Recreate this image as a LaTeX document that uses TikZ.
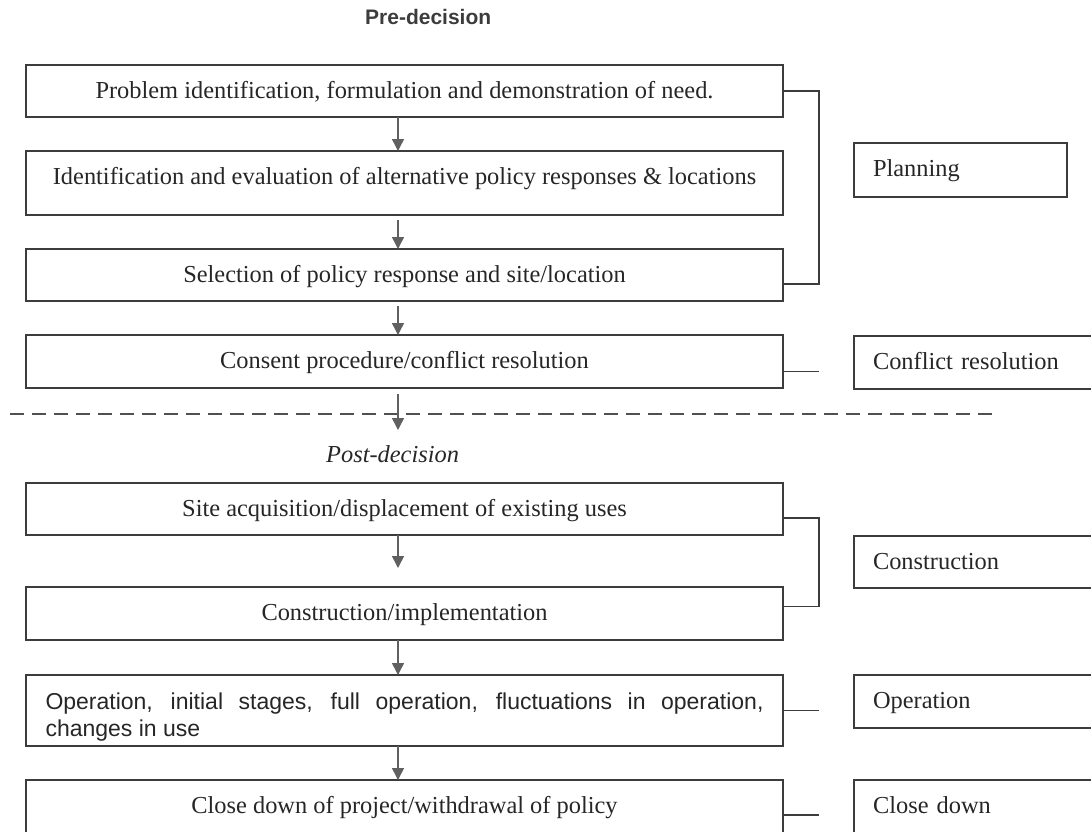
\documentclass[tikz,border=0pt]{standalone}
\usepackage{fontspec}
\setmainfont{Liberation Serif}
\newfontfamily\arialfont{Liberation Sans}
\usepackage{tikz}
\usetikzlibrary{calc,arrows.meta,positioning}
\definecolor{boxgrey}{HTML}{3C3C3C}
\definecolor{arrowgrey}{HTML}{606060}
\definecolor{inkgrey}{HTML}{262626}

\begin{document}
\begin{tikzpicture}[x=1pt,y=-1pt]

\tikzset{stagebox/.style={draw=boxgrey,line width=1.8pt,anchor=north west,outer sep=0pt,minimum width=757pt,inner xsep=0pt,inner ysep=0pt,text height=33pt,text=inkgrey,font=\fontsize{24.4}{28}\selectfont},
phasebox/.style={draw=boxgrey,line width=1.8pt,anchor=north west,outer sep=0pt,inner xsep=19pt,inner ysep=0pt,text height=33pt,align=left,text=inkgrey,font=\fontsize{24.4}{28}\selectfont},
flow/.style={-{Triangle[width=12pt,length=12pt]},line width=1.5pt,draw=arrowgrey,fill=arrowgrey},
link/.style={line width=1.4pt,draw=boxgrey},
divider/.style={line width=2.2pt,draw=boxgrey!90,dash pattern=on 14pt off 8pt}}

\useasboundingbox (0,0) rectangle (1091,831);
\clip (0,0) rectangle (1091,831);

% Headings
\node[anchor=base west,inner sep=0pt,text=boxgrey,font=\arialfont\bfseries\fontsize{21}{25}\selectfont] (pre) at (365,24) {Pre-decision};
\node[anchor=base west,inner sep=0pt,text=inkgrey,font=\itshape\fontsize{24.4}{28}\selectfont] (post) at (326,462) {Post-decision};

% Stage boxes
\node[stagebox,text depth=19pt] (b1) at (26,65) {Problem identification, formulation and demonstration of need.};
\node[stagebox,text depth=31pt] (b2) at (26,151) {Identification and evaluation of alternative policy responses \& locations};
\node[stagebox,text depth=19pt] (b3) at (26,249) {Selection of policy response and site/location};
\node[stagebox,text depth=20pt] (b4) at (26,335) {Consent procedure/conflict resolution};
\node[stagebox,text depth=19pt] (b5) at (26,483) {Site acquisition/displacement of existing uses};
\node[stagebox,text depth=20pt] (b6) at (26,587) {Construction/implementation};
\node[stagebox,text depth=37pt,text height=34pt,font=\arialfont\fontsize{23}{27}\selectfont] (b7) at (26,675) {\parbox[t]{718pt}{\makebox[718pt][s]{Operation, initial stages, full operation, fluctuations in operation,}\\changes in use}};
\node[stagebox,text depth=37pt] (b8) at (26,780) {Close down of project/withdrawal of policy};

% Phase boxes
\node[phasebox,text depth=21pt,text width=175pt] (planning) at (854,143) {Planning};
\node[phasebox,text depth=20pt,text width=228pt] (conflict) at (854,336) {Conflict resolution};
\node[phasebox,text depth=19pt,text width=228pt] (construction) at (854,536) {Construction};
\node[phasebox,text depth=20pt,text width=228pt] (operation) at (854,675) {Operation};
\node[phasebox,text depth=37pt,text width=228pt] (closedown) at (854,780) {Close down};

% Divider
\draw[divider] (10,414) -- (997,414);

% Arrows
\coordinate (ax) at (398,0);
\coordinate (cut) at (398,430);
\coordinate (brk) at (819,0);
\draw[flow] (b1.south -| ax) -- (b2.north -| ax);
\draw[flow,shorten <=5pt] (b2.south -| ax) -- (b3.north -| ax);
\draw[flow,shorten <=5pt] (b3.south -| ax) -- (b4.north -| ax);
\draw[flow,shorten <=6pt] (b4.south -| ax) -- (cut);
\draw[flow] (b5.south -| ax) -- ($(b6.north -| ax)+(0,-19)$);
\draw[flow] (b6.south -| ax) -- (b7.north -| ax);
\draw[flow] (b7.south -| ax) -- (b8.north -| ax);

% Brackets and ties
\draw[link] (b1.east) -- (b1.east -| brk) -- ($(b3.east -| brk)+(0,9)$) -- ($(b3.east)+(0,9)$);
\draw[link] ($(b4.east)+(0,10)$) -- ($(b4.east -| brk)+(0,10)$);
\draw[link] ($(b5.east)+(0,9)$) -- ($(b5.east -| brk)+(0,9)$) -- ($(b6.east -| brk)+(0,-7)$) -- ($(b6.east)+(0,-7)$);
\draw[link] (b7.east) -- (b7.east -| brk);
\draw[link] (b8.east) -- (b8.east -| brk);

\end{tikzpicture}
\end{document}
